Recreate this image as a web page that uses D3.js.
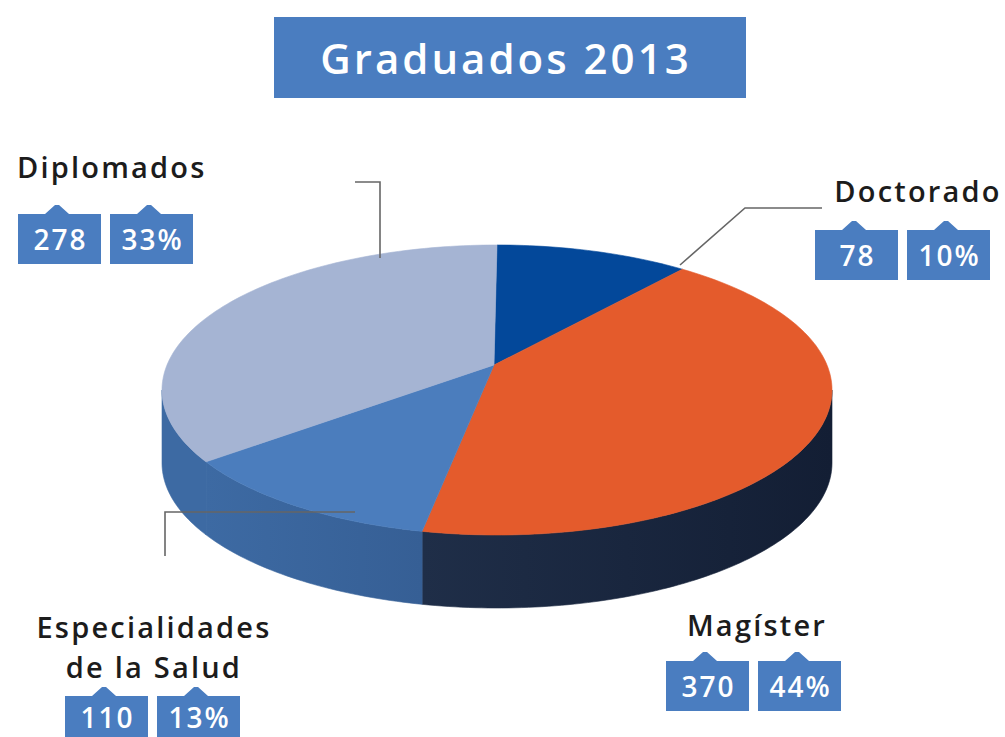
<!DOCTYPE html>
<html>
<head>
<meta charset="utf-8">
<script src="https://cdnjs.cloudflare.com/ajax/libs/d3/7.8.5/d3.min.js"></script>
<style>
  body { margin: 0; background: #fff; }
  svg { display: block; }
</style>
</head>
<body>
<script>
// chart data
var titleText = "Graduados 2013";
var categories = ["Doctorado", "Magíster", "Especialidades\nde la Salud", "Diplomados"];
var counts = [78, 370, 110, 278];
var percents = ["10%", "44%", "13%", "33%"];

var topColors  = ["#03489a", "#e45b2c", "#4b7dbd", "#a5b4d3"];
var sideColors = [["#0a3a7a", "#062c60"], ["#1f2e48", "#131e34"], ["#3d6aa3", "#365f95"], ["#3d6aa3", "#3d6aa3"]];

var width = 1005, height = 737;

var svg = d3.select("body").append("svg")
	.attr("width", width)
	.attr("height", height)
	.style("font-family", "'Open Sans', 'Noto Sans', sans-serif");

// title box
svg.append("rect")
	.attr("x", 274).attr("y", 17)
	.attr("width", 472).attr("height", 81)
	.attr("fill", "#4a7dc0");
svg.append("text")
	.attr("x", 506).attr("y", 74)
	.attr("text-anchor", "middle")
	.attr("fill", "#fff")
	.attr("font-size", 42)
	.attr("font-weight", 600)
	.attr("letter-spacing", 3)
	.text(titleText);

// pie geometry (ellipse seen in perspective)
var cx = 497, cy = 390, rx = 335, ry = 145, depth = 73;
var vx = 494, vy = 365;   // apex of the slices

var pie = d3.pie().sort(null).value(function(d) { return d; });
var arcs = pie(counts);

function pt(a, dy) {
	return [cx + rx * Math.sin(a), cy - ry * Math.cos(a) + (dy || 0)];
}
function along(a0, a1, dy) {
	var n = Math.max(2, Math.ceil((a1 - a0) / 0.02));
	return d3.range(n + 1).map(function(i) { return pt(a0 + (a1 - a0) * i / n, dy); });
}
var line = d3.line();

var defs = svg.append("defs");
sideColors.forEach(function(c, i) {
	var g = defs.append("linearGradient").attr("id", "side" + i)
		.attr("x1", "0").attr("x2", "1").attr("y1", "0").attr("y2", "0");
	g.append("stop").attr("offset", "0%").attr("stop-color", c[0]);
	g.append("stop").attr("offset", "100%").attr("stop-color", c[1]);
});

// visible sides (front half)
var pie3d = svg.append("g");
arcs.forEach(function(d, i) {
	var s0 = Math.max(d.startAngle, Math.PI / 2),
		s1 = Math.min(d.endAngle, 3 * Math.PI / 2);
	if (s0 >= s1) return;
	var pts = along(s0, s1, 0).concat(along(s0, s1, depth).reverse());
	pie3d.append("path")
		.attr("d", line(pts) + "Z")
		.attr("fill", "url(#side" + i + ")")
		.attr("stroke", "url(#side" + i + ")")
		.attr("stroke-width", 0.6);
});

// top faces
arcs.forEach(function(d, i) {
	var pts = [[vx, vy]].concat(along(d.startAngle, d.endAngle, 0));
	pie3d.append("path")
		.attr("d", line(pts) + "Z")
		.attr("fill", topColors[i])
		.attr("stroke", topColors[i])
		.attr("stroke-width", 0.6);
});

// leader lines
var leaders = [
	[[680, 265], [745, 208], [822, 208]],
	null,
	[[355, 512], [165, 512], [165, 556]],
	[[380, 258], [380, 182], [355, 182]]
];
leaders.forEach(function(l) {
	if (!l) return;
	svg.append("path")
		.attr("d", line(l))
		.attr("fill", "none")
		.attr("stroke", "#666")
		.attr("stroke-width", 1.6);
});

// label blocks: name lines + two tagged boxes
var labelPos = [
	{ x: 918, y: 202, anchor: "middle", bx: 815, by: 230, ty: 36 },
	{ x: 757, y: 636, anchor: "middle", bx: 666, by: 661, ty: 36 },
	{ x: 154, y: 638, anchor: "middle", bx: 65, by: 696, ty: 32 },
	{ x: 17,  y: 178, anchor: "start",  bx: 18, by: 214, ty: 36 }
];
var boxW = 83, boxH = 50, gap = 9;

function tagPath(x, y) {
	var px = x + boxW * 0.47;
	return "M" + x + "," + y +
		"L" + (px - 12) + "," + y +
		"L" + (px - 2) + "," + (y - 9) +
		"L" + (px + 2) + "," + (y - 9) +
		"L" + (px + 12) + "," + y +
		"L" + (x + boxW) + "," + y +
		"L" + (x + boxW) + "," + (y + boxH) +
		"L" + x + "," + (y + boxH) + "Z";
}

categories.forEach(function(name, i) {
	var p = labelPos[i];
	var t = svg.append("text")
		.attr("x", p.x).attr("y", p.y)
		.attr("text-anchor", p.anchor)
		.attr("fill", "#1c1c1c")
		.attr("font-size", 29)
		.attr("font-weight", 600)
		.attr("letter-spacing", 2.2);
	name.split("\n").forEach(function(s, k) {
		t.append("tspan").attr("x", p.x).attr("dy", k ? 40 : 0).text(s);
	});
	[String(counts[i]), percents[i]].forEach(function(v, k) {
		var x = p.bx + k * (boxW + gap);
		svg.append("path")
			.attr("d", tagPath(x, p.by))
			.attr("fill", "#4a7dc0");
		svg.append("text")
			.attr("x", x + boxW / 2 + 1).attr("y", p.by + p.ty)
			.attr("text-anchor", "middle")
			.attr("fill", "#fff")
			.attr("font-size", 28)
			.attr("font-weight", 600)
			.attr("letter-spacing", 2)
			.text(v);
	});
});
</script>
</body>
</html>
